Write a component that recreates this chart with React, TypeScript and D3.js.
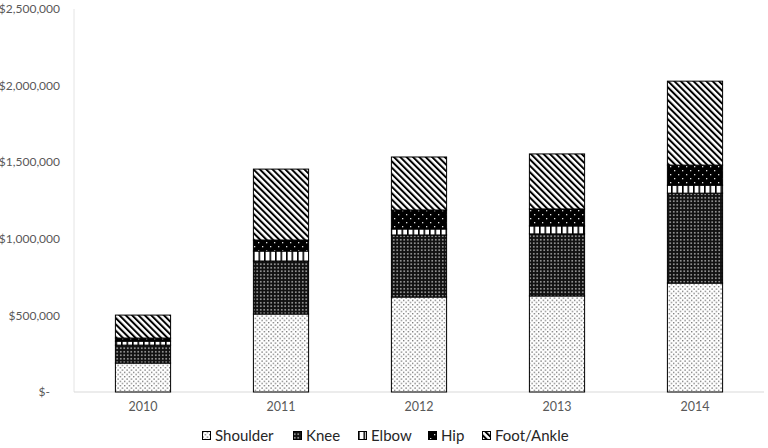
import React from 'react';
import * as d3 from 'd3';

const width = 768;
const height = 448;
const margin = { top: 9, right: 4, bottom: 56, left: 74 };
const plotBottom = height - margin.bottom;

const years = ['2010', '2011', '2012', '2013', '2014'];
const parts = ['Shoulder', 'Knee', 'Elbow', 'Hip', 'Foot/Ankle'];

// dollars
const shoulder = [189000, 509000, 620000, 627000, 711000];
const knee = [117000, 346000, 405000, 405000, 587000];
const elbow = [26000, 65000, 39000, 52000, 52000];
const hip = [20000, 72000, 124000, 111000, 131000];
const footAnkle = [150000, 463000, 346000, 359000, 548000];

const yTicks = [0, 500000, 1000000, 1500000, 2000000, 2500000];

const series = [shoulder, knee, elbow, hip, footAnkle];
const rows = years.map((year, i) => {
  const r: any = { year };
  parts.forEach((p, j) => (r[p] = series[j][i]));
  return r;
});

const stack = d3.stack<any>().keys(parts)(rows);

const x = d3.scaleBand()
  .domain(years)
  .range([margin.left, width - margin.right])
  .paddingInner(0.6)
  .paddingOuter(0.3);

const y = d3.scaleLinear()
  .domain([0, 2500000])
  .range([plotBottom, margin.top]);

const money = d3.format(',');
const fmt = (v: number) => (v === 0 ? '$-' : '$' + money(v));

const font = 'Lato, "Open Sans", sans-serif';
const patternIds = ['pShoulder', 'pKnee', 'pElbow', 'pHip', 'pFoot'];

const Patterns = () => (
  <defs>
    <pattern id="pShoulder" width="4.5" height="4.5" patternUnits="userSpaceOnUse">
      <rect width="4.5" height="4.5" fill="white" />
      <rect x="0.5" y="0.5" width="1.1" height="1.1" fill="#333" />
      <rect x="2.75" y="2.75" width="1.1" height="1.1" fill="#333" />
    </pattern>
    <pattern id="pKnee" width="3.5" height="3.5" patternUnits="userSpaceOnUse">
      <rect width="3.5" height="3.5" fill="#111" />
      <rect x="1" y="1" width="1.5" height="1.5" fill="#bbb" />
    </pattern>
    <pattern id="pElbow" width="5.5" height="6" patternUnits="userSpaceOnUse">
      <rect width="5.5" height="6" fill="white" />
      <rect x="0" width="1.6" height="6" fill="black" />
    </pattern>
    <pattern id="pHip" width="8" height="8" patternUnits="userSpaceOnUse">
      <rect width="8" height="8" fill="black" />
      <rect x="2" y="2" width="1.3" height="1.3" fill="#ddd" />
      <rect x="6" y="6" width="1.3" height="1.3" fill="#ddd" />
    </pattern>
    <pattern id="pFoot" width="4.5" height="4.5" patternUnits="userSpaceOnUse" patternTransform="rotate(-45)">
      <rect width="4.5" height="4.5" fill="white" />
      <rect width="2" height="4.5" fill="black" />
    </pattern>
  </defs>
);

const legendX = [202, 293, 358, 428, 482];

export default function App() {
  return (
    <svg width={width} height={height} style={{ position: 'absolute', left: 0, top: 0, background: 'white' }}>
      <Patterns />
      {/* axes */}
      <line x1={margin.left} x2={margin.left} y1={margin.top} y2={plotBottom} stroke="#e4e4e4" />
      <line x1={margin.left} x2={width - margin.right} y1={plotBottom} y2={plotBottom} stroke="#d9d9d9" />
      {yTicks.map(t => (
        <text key={t} x={t === 0 ? 50 : 60} y={y(t)} dy="0.35em" textAnchor="end"
          fontFamily={font} fontSize={12} fill="#595959">{fmt(t)}</text>
      ))}
      {years.map(yr => (
        <text key={yr} x={x(yr)! + x.bandwidth() / 2} y={plotBottom + 15} dy="0.35em" textAnchor="middle"
          fontFamily={font} fontSize={12.5} fill="#595959">{yr}</text>
      ))}
      {/* bars */}
      {stack.map((s, j) => (
        <g key={s.key} fill={`url(#${patternIds[j]})`} stroke="black" strokeWidth={1}>
          {s.map(d => (
            <rect key={d.data.year} x={x(d.data.year)} y={y(d[1])}
              width={x.bandwidth()} height={y(d[0]) - y(d[1])} />
          ))}
        </g>
      ))}
      {/* legend */}
      {parts.map((p, j) => (
        <g key={p} transform={`translate(${legendX[j]},${height - 12})`}>
          <rect x={0.5} y={-4.5} width={8} height={8} fill={`url(#${patternIds[j]})`} stroke="black" />
          <text x={13} y={0} dy="0.35em" fontFamily={font} fontSize={15} fill="#262626">{p}</text>
        </g>
      ))}
    </svg>
  );
}
